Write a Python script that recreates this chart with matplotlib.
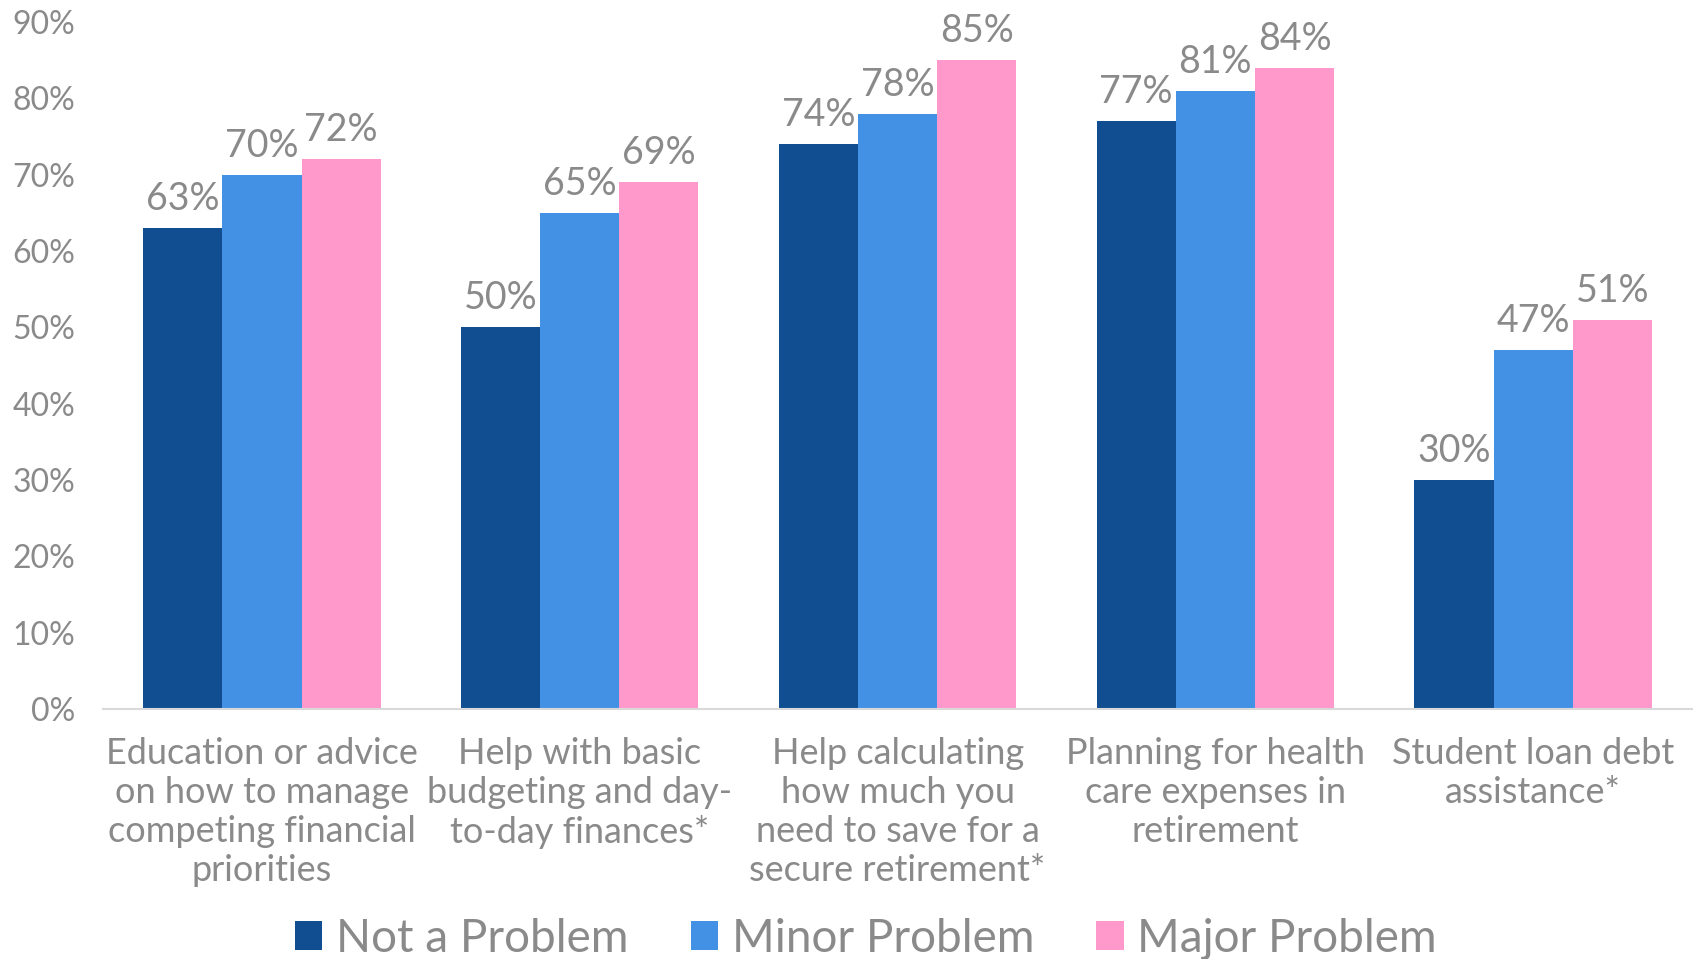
import matplotlib
matplotlib.use("Agg")
import matplotlib.pyplot as plt
import numpy as np

# chart data
categories = [
    "Education or advice\non how to manage\ncompeting financial\npriorities",
    "Help with basic\nbudgeting and day-\nto-day finances*",
    "Help calculating\nhow much you\nneed to save for a\nsecure retirement*",
    "Planning for health\ncare expenses in\nretirement",
    "Student loan debt\nassistance*",
]
series_names = ["Not a Problem", "Minor Problem", "Major Problem"]
not_a_problem = [63, 50, 74, 77, 30]
minor_problem = [70, 65, 78, 81, 47]
major_problem = [72, 69, 85, 84, 51]
y_ticks = [0, 10, 20, 30, 40, 50, 60, 70, 80, 90]

colors = ["#114e91", "#4391e5", "#ff99cc"]
grey = "#8a8a8a"

plt.rcParams["font.family"] = ["Lato", "DejaVu Sans"]

fig = plt.figure(figsize=(16.98, 9.59), dpi=100)
ax = fig.add_axes([0.0607, 0.2607, 0.9358, 0.7163])

x = np.arange(len(categories))
width = 0.249
for i, (name, vals) in enumerate(zip(series_names, [not_a_problem, minor_problem, major_problem])):
    bars = ax.bar(x + (i - 1) * width, vals, width, color=colors[i], label=name)
    for b, v in zip(bars, vals):
        ax.annotate(f"{v}%", (b.get_x() + b.get_width() / 2, v),
                    xytext=(0, 8), textcoords="offset points",
                    ha="center", va="bottom", fontsize=27, color=grey)

ax.set_xlim(-0.5, len(categories) - 0.5)
ax.set_ylim(0, 90)
ax.set_yticks(y_ticks)
ax.set_yticklabels([f"{t}%" for t in y_ticks], fontsize=23, color=grey)
ax.set_xticks(x)
ax.set_xticklabels(categories, fontsize=26, color=grey, linespacing=1.22, va="top")
ax.tick_params(axis="both", length=0)
ax.tick_params(axis="x", pad=20)
ax.tick_params(axis="y", pad=20)

for s in ["top", "right", "left"]:
    ax.spines[s].set_visible(False)
ax.spines["bottom"].set_color("#d9d9d9")
ax.spines["bottom"].set_linewidth(1.5)

leg = fig.legend(loc="center", bbox_to_anchor=(0.51, 0.021), ncol=3, frameon=False,
                 fontsize=33, handlelength=0.6, handleheight=0.6, handletextpad=0.3,
                 columnspacing=1.35)
for t in leg.get_texts():
    t.set_color(grey)

fig.savefig("out.png", dpi=100)
